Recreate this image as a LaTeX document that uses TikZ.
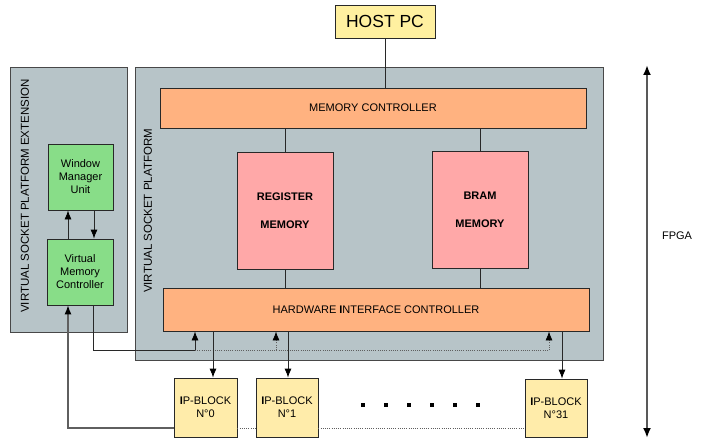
\documentclass[tikz,border=0pt]{standalone}
\usepackage{fontspec}
\setmainfont{Liberation Sans}
\usetikzlibrary{arrows.meta,calc}
\definecolor{panelgray}{RGB}{183,196,200}
\definecolor{mcorange}{RGB}{255,178,128}
\definecolor{mempink}{RGB}{255,168,168}
\definecolor{wmgreen}{RGB}{136,221,136}
\definecolor{hostyellow}{RGB}{255,240,160}
\definecolor{ipyellow}{RGB}{255,236,170}
\definecolor{edgegray}{RGB}{40,40,40}
\definecolor{linegray}{RGB}{95,95,95}
\tikzset{
  box/.style={draw=edgegray, line width=0.8pt, inner sep=0pt, align=center,
    font=\fontsize{11}{13}\selectfont},
  panel/.style={draw=edgegray!85, line width=1pt, fill=panelgray, inner sep=0pt},
  conn/.style={draw=edgegray, line width=0.8pt},
  tip/.tip={Latex[length=9pt,width=7pt,color=black]},
  arr/.style={conn, -tip},
  dotconn/.style={draw=linegray, line width=0.8pt, dash pattern=on 1pt off 1.2pt},
  dotarr/.style={dotconn, -tip},
  grayarr/.style={draw=linegray, line width=1.1pt, -tip},
  vlabel/.style={rotate=90, font=\fontsize{11.5}{13}\selectfont},
}
\begin{document}
\begin{tikzpicture}[x=1pt,y=-1pt]
\useasboundingbox (0,0) rectangle (707,441);
% panels
\node[panel, minimum width=117pt, minimum height=264pt] (ext) at (68.5,200) {};
\node[panel, minimum width=468pt, minimum height=292pt] (vsp) at (369,214) {};
\node[vlabel] (extlbl) at (25,196) {VIRTUAL SOCKET PLATFORM EXTENSION};
\node[vlabel] (vsplbl) at (148,211) {VIRTUAL SOCKET PLATFORM};
% boxes
\node[box, fill=hostyellow, minimum width=100pt, minimum height=33pt,
  font=\fontsize{17.5}{20}\selectfont] (host) at (385,21.5) {HOST PC};
\node[box, fill=mcorange, minimum width=426pt, minimum height=40pt] (mc) at (373,108) {MEMORY CONTROLLER};
\node[box, fill=mempink, minimum width=96pt, minimum height=117pt,
  font=\fontsize{11}{28}\selectfont\bfseries] (reg) at (285,210.5) {REGISTER\\MEMORY};
\node[box, fill=mempink, minimum width=96pt, minimum height=117pt,
  font=\fontsize{11}{28}\selectfont\bfseries] (bram) at (480,209.5) {BRAM\\MEMORY};
\node[box, fill=mcorange, minimum width=426pt, minimum height=43pt] (hic) at (376,309.5)
  {HARDWARE \textbf{I}NTERFACE CONTROLLER};
\node[box, fill=wmgreen, minimum width=65pt, minimum height=66pt] (wmu) at (80.5,177) {Window\\Manager\\Unit};
\node[box, fill=wmgreen, minimum width=66pt, minimum height=66pt] (vmc) at (80,272) {Virtual\\Memory\\Controller};
\node[box, fill=ipyellow, minimum width=63pt, minimum height=59pt] (ip0) at (205.5,407.5) {\textbf{I}P-BLOCK\\N°0};
\node[box, fill=ipyellow, minimum width=62pt, minimum height=59pt] (ip1) at (287,407.5) {\textbf{I}P-BLOCK\\N°1};
\node[box, fill=ipyellow, minimum width=62pt, minimum height=58pt] (ip31) at (556,408) {\textbf{I}P-BLOCK\\N°31};
% ellipsis dots
\foreach \i in {0,...,5} {
  \fill[black] ({363+23*\i-2.2},402.8) rectangle ++(4.4,4.4);
}
% vertical links
\draw[conn] (host.south) -- (host.south |- mc.north);
\draw[conn] (reg.north |- mc.south) -- (reg.north);
\draw[conn] (reg.south) -- (reg.south |- hic.north);
\draw[conn] (bram.north |- mc.south) -- (bram.north);
\draw[conn] (bram.south) -- (bram.south |- hic.north);
% WMU <-> VMC
\draw[arr] ([xshift=-12pt]vmc.north) -- ([xshift=-12pt]vmc.north |- wmu.south);
\draw[arr] ([xshift=13.5pt]wmu.south) -- ([xshift=13.5pt]wmu.south |- vmc.north);
% VMC -> HIC
\coordinate (c1) at (195,350);
\coordinate (c2) at (276,350);
\coordinate (c3) at (549,350);
\draw[arr] ([xshift=13pt]vmc.south) |- (c1) -- (c1 |- hic.south);
\draw[dotconn] (c1) -- (c3);
\draw[dotarr] (c2) -- (c2 |- hic.south);
\draw[dotarr] (c3) -- (c3 |- hic.south);
% HIC -> IP blocks
\coordinate (a0) at ([xshift=7.5pt]ip0.north);
\coordinate (a1) at ([xshift=1pt]ip1.north);
\coordinate (a31) at ([xshift=6pt]ip31.north);
\draw[arr] (a0 |- hic.south) -- (a0);
\draw[arr] (a1 |- hic.south) -- (a1);
\draw[arr] (a31 |- hic.south) -- (a31);
% IP -> VMC return
\coordinate (d0) at ([yshift=-20.5pt]ip0.west);
\draw[grayarr] (d0) -| ([xshift=-12pt]vmc.south);
\draw[dotconn] (d0 -| ip0.east) -- (d0 -| ip1.west);
\draw[dotconn] (d0 -| ip1.east) -- (d0 -| ip31.west);
% FPGA extent
\coordinate (ftop) at (647,65);
\coordinate (fbot) at (647,438);
\draw[draw=black!65, line width=2pt, {Latex[length=10pt,width=8pt,color=black]}-{Latex[length=10pt,width=8pt,color=black]}] (ftop) -- (fbot);
\node[font=\fontsize{11}{13}\selectfont] (fpga) at (677,236) {FPGA};
\end{tikzpicture}
\end{document}
